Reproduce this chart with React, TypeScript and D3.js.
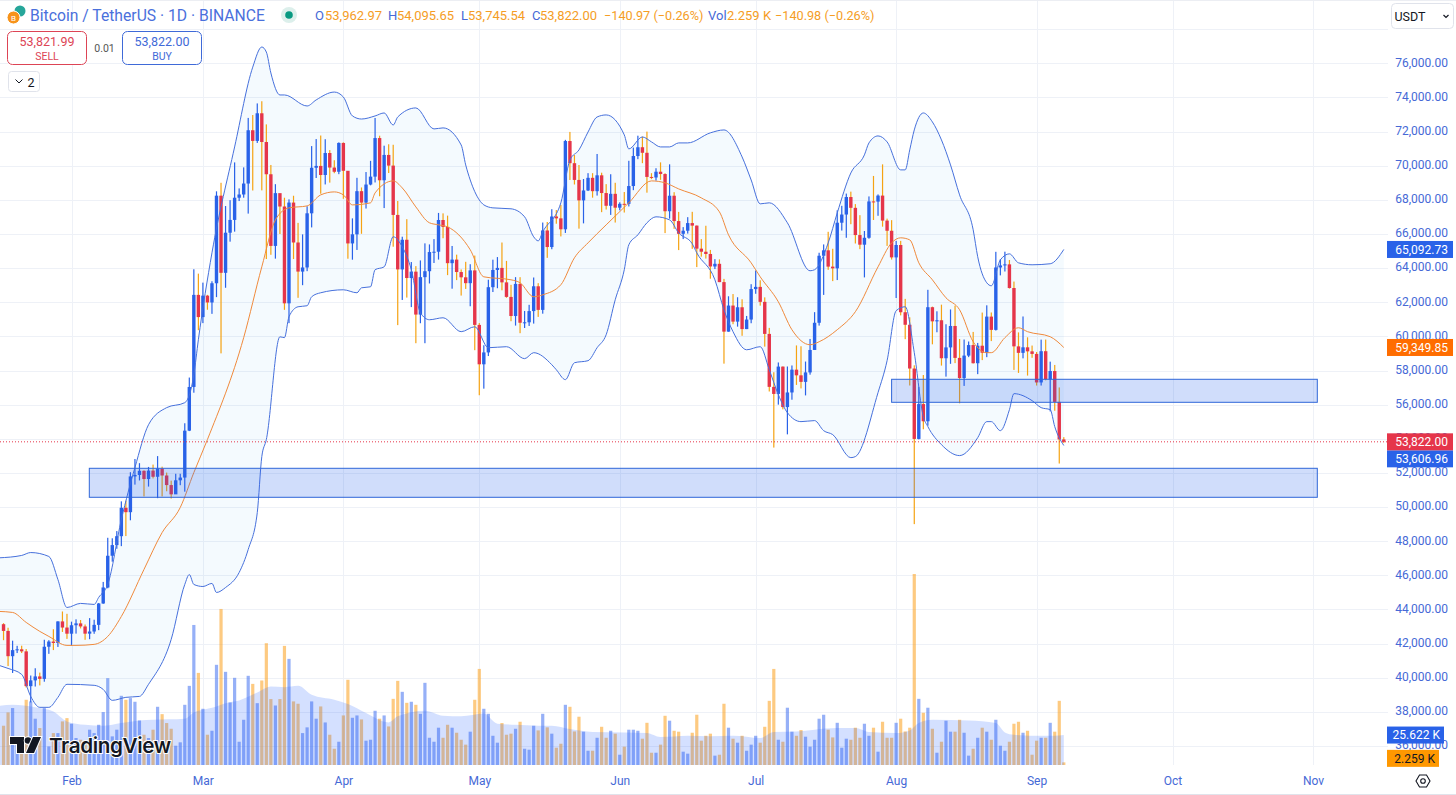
import React, { useEffect, useRef } from 'react';
import * as d3 from 'd3';

// Daily BTC/USDT candles, 17 Jan to 7 Sep
const opens = [
  43137,42742,41262,41618,41665,41545,39507,39845,40077,39933,41816,42120,42035,43300,42941,
  42580,43075,43185,43005,42582,42708,43098,44349,45288,47147,47771,48293,49958,49699,51795,51880,52124,51642,52137,51774,52258,51849,51288,50744,51568,51728,54476,57037,62432,
  61130,62387,61987,63113,68245,63724,66074,66823,68124,68313,68955,72078,71452,73072,71388,69499,65300,68393,67609,61937,67840,65501,63796,64037,67211,69880,69988,69455,70744,69892,69645,
  71333,69702,65446,65980,68508,67837,68896,69360,71620,69146,70631,70006,67116,63924,65661,63419,63793,61277,63470,63818,64941,64960,66819,66414,64289,64499,63770,63461,63118,63866,
  60672,58364,59060,62882,63892,64012,63165,62312,61193,63074,60799,60825,61483,62936,61552,66206,65235,67024,66915,66274,71446,70148,69166,67969,68549,69290,68507,69437,68398,67652,68352,
  67540,67766,67765,68809,70567,71082,70757,69342,69310,69648,69512,67332,68241,66756,66011,66191,66639,66490,65140,64960,64828,64096,64252,63180,60277,61806,60864,61706,60427,60986,
  62772,62900,62023,60145,57042,56628,58230,55857,56714,58050,57718,57334,57889,59204,60797,64724,65043,64087,63987,66660,67139,68165,67532,65936,65372,65777,67907,67896,68249,66784,66188,
  64628,65354,61415,60680,58116,53991,56034,55027,61710,60880,60945,58719,59354,60609,58739,57560,58874,59491,58427,59453,59042,61159,60381,64037,64157,64220,62834,59415,59034,59359,59123,
  58973,57301,59132,57487,57970,56160,53962.97,
];
const highs = [
  43198,42930,42171,41870,41877,41680,40129,40555,40300,42225,42200,42842,43305,43882,43745,
  43285,43422,43381,43119,43494,43399,44380,45614,48200,48170,48592,50334,50368,52043,52816,52572,52150,52350,52488,52985,52366,52020,51548,51950,51950,54910,57588,63933,63676,
  63150,62433,63230,68499,69000,67637,67980,70194,68670,69903,72800,72969,73650,73777,72422,70043,68918,68200,68124,68029,68240,66650,65976,67622,71150,71561,71769,71552,70916,70321,71366,
  71366,69674,66914,69291,68725,69629,70284,72797,71758,71172,71256,71227,67932,65840,66867,64355,64117,64450,65450,65389,65700,67233,67208,67075,65297,64789,63923,64370,64228,64734,
  60780,59480,63321,64494,64646,65500,64422,63020,63471,63469,61490,61849,63450,63118,66670,66703,67451,67400,67700,71515,71980,70625,70041,69220,69563,69562,70687,69590,68920,69500,69000,
  67857,68460,70288,71063,71758,71700,71997,69563,69852,70195,69558,70080,68449,67294,66402,66985,67298,66500,65700,66482,65066,64525,64512,63369,62350,62480,62293,62174,61197,63058,
  63861,63288,62285,60498,57900,58472,58238,58236,58296,59470,59421,58526,59850,61420,64900,65388,66128,65133,67386,67650,68366,68480,67750,67102,66175,68200,69400,68318,70079,66900,66810,
  65593,65596,62198,61117,58305,57040,57737,62729,61744,61470,61858,60711,61578,61800,59847,59817,59700,60262,59617,61396,61820,61400,64955,64521,64962,64476,63212,60234,61166,59945,59462,
  59086,59810,59815,58519,58327,57008,54095.65,
];
const lows = [
  42200,40683,40280,41446,41446,39431,38555,39484,39550,39767,41400,41620,41804,42683,42276,
  41884,42584,42889,42222,42258,42574,42788,44331,45242,46800,47557,47710,48300,49225,51315,51559,50625,51200,51677,50521,50625,50926,50500,50767,51280,50901,54450,56700,60364,
  60777,61561,61320,62300,59005,62848,65550,66136,67929,68126,67194,68548,71333,68555,64533,64780,64555,66000,61555,60775,64529,62260,63000,63821,66385,69280,68359,68903,69009,69560,69504,
  68062,64550,64493,65064,66011,67491,68851,69018,68210,67518,69571,65254,60660,62134,62274,61716,59600,60771,59600,63100,64300,64500,65750,63589,62794,63297,62391,62781,61765,59191,
  56552,56937,58848,62599,62822,62700,62261,60888,60632,60187,60492,60610,60749,61142,61330,64602,65106,66600,65857,66060,69162,68900,66312,66622,68515,68128,68250,67278,67431,67118,66670,
  67386,67257,67612,68567,70383,70148,68420,69210,69124,69172,66051,66900,66304,65056,65700,66023,65130,64060,64670,64559,63379,63943,63178,58402,60276,60712,60570,60035,60427,60770,
  62496,61800,59400,56771,53485,56000,55724,54260,56289,57157,56952,56542,57756,59784,60632,62430,63900,63238,63300,66200,65777,66573,65442,65111,63456,65722,66819,67066,66428,65302,64500,
  62248,61230,59836,57122,49000,53962,54558,54768,59535,60242,58288,57642,58392,58433,56078,57098,58785,58409,57787,58610,58783,59724,60342,63574,63801,62800,58034,57860,58713,57703,58745,
  57120,57120,57425,55606,55643,52550,53745.54,
];
const closes = [
  42742,41262,41618,41665,41545,39507,39845,40077,39933,41816,42120,42035,43300,42941,42580,
  43075,43185,43005,42582,42708,43098,44349,45288,47147,47771,48293,49958,49699,51795,51880,52124,51642,52137,51774,52258,51849,51288,50744,51568,51728,54476,57037,62432,61130,
  62387,61987,63113,68245,63724,66074,66823,68124,68313,68955,72078,71452,73072,71388,69499,65300,68393,67609,61937,67840,65501,63796,64037,67211,69880,69988,69455,70744,69892,69645,71333,
  69702,65446,65980,68508,67837,68896,69360,71620,69146,70631,70006,67116,63924,65661,63419,63793,61277,63470,63818,64941,64960,66819,66414,64289,64499,63770,63461,63118,63866,60672,
  58364,59060,62882,63892,64012,63165,62312,61193,63074,60799,60825,61483,62936,61552,66206,65235,67024,66915,66274,71446,70148,69166,67969,68549,69290,68507,69437,68398,67652,68352,67540,
  67766,67765,68809,70567,71082,70757,69342,69310,69648,69512,67332,68241,66756,66011,66191,66639,66490,65140,64960,64828,64096,64252,63180,60277,61806,60864,61706,60427,60986,62772,
  62900,62023,60145,57042,56628,58230,55857,56714,58050,57718,57334,57889,59204,60797,64724,65043,64087,63987,66660,67139,68165,67532,65936,65372,65777,67907,67896,68249,66784,66188,64628,
  65354,61415,60680,58116,53991,56034,55027,61710,60880,60945,58719,59354,60609,58739,57560,58874,59491,58427,59453,59042,61159,60381,64037,64157,64220,62834,59415,59034,59359,59123,58973,
  57301,59132,57487,57970,56160,53962.97,53822,
];

// Volume per day, in thousands of BTC
const volumes = [
  33.6,45.0,48.7,24.5,19.4,55.8,54.4,39.6,31.6,48.7,15.9,27.3,27.3,37.3,40.1,35.3,23.1,21.6,18.8,30.2,
  27.3,34.4,45.3,74.3,24.5,30.2,59.2,55.8,57.2,54.1,38.1,25.9,23.1,30.2,49.8,43.5,35.9,31.0,16.5,19.4,
  51.5,67.7,119.8,78.8,48.1,25.9,29.3,85.7,133.5,79.7,53.5,74.6,19.9,38.7,76.3,69.4,52.9,72.3,104.2,56.4,
  50.9,56.4,101.9,90.8,54.4,52.4,27.3,32.2,54.4,39.6,50.1,36.4,25.9,13.9,19.9,42.4,72.9,40.4,42.4,39.0,
  20.8,21.6,46.4,39.6,42.4,33.0,56.6,72.0,62.6,53.2,54.1,51.5,43.8,70.3,23.3,19.9,31.9,23.3,34.4,31.9,
  27.6,21.6,17.4,28.5,55.8,82.2,48.1,43.8,25.0,19.1,35.9,25.9,26.8,31.0,37.0,13.9,13.1,33.6,29.6,
  43.8,32.2,26.8,14.8,18.2,51.5,49.8,28.7,41.3,28.5,12.2,12.2,23.3,32.7,23.3,29.3,26.8,8.8,15.7,30.2,
  30.2,29.3,22.5,36.1,10.5,10.5,17.4,42.1,37.9,29.3,28.5,11.4,9.7,27.6,43.0,20.8,25.0,26.8,8.0,8.8,
  52.4,31.9,22.5,19.1,25.0,12.2,17.4,25.0,19.1,32.7,54.9,82.2,21.6,19.9,49.0,28.5,25.0,29.9,24.2,15.7,
  21.6,39.6,43.0,30.2,23.6,36.1,14.8,22.5,21.6,31.9,23.3,35.3,25.0,31.9,11.4,37.0,23.3,23.3,36.1,39.6,
  28.7,31.9,163.4,56.6,44.7,49.0,31.0,10.5,19.9,37.9,28.5,28.5,38.7,27.6,8.0,13.9,23.3,31.9,28.5,21.6,
  38.7,16.5,12.2,19.9,35.3,37.0,27.6,29.3,8.8,20.8,23.3,23.3,36.1,28.5,54.9,2.259,
];
const volumeMaBars = [-1,2,7,11,14,18,22,26,30,33,40,42,44,47,49,52,56,59,62,65,68,73,76,80,85,87,93,97,101,106,109,113,118,121,125,130,137,142,145,151,156,161,167,170,175,179,184,188,191,197,200,202,205,213,219,221,223,229,232,234];
const volumeMaValues = [50.7,51.5,49.5,45.8,37.3,34.4,33.6,35.9,38.1,38.7,39.6,45.0,47.2,50.1,52.9,55.2,62.0,67.2,66.6,67.7,60.1,55.8,52.1,44.4,36.4,41.6,46.4,42.1,41.6,44.0,35.3,34.4,33.6,33.6,30.7,28.2,27.9,27.3,23.9,25.0,24.5,25.0,23.1,28.2,28.7,30.2,31.6,31.6,28.2,27.3,29.6,35.9,38.7,38.1,35.9,27.9,25.9,25.0,25.0,25.622];

// Bollinger bands at the turning points
const upperBars = [-1,4,6,10,12,14,17,20,21,23,26,29,32,36,40,42,43,46,51,55,57,58,59,61,62,67,69,73,75,77,79,82,84,86,87,91,95,97,101,102,103,105,106,108,112,115,117,118,119,123,125,127,129,131,133,137,138,141,143,145,147,149,151,156,159,163,165,167,169,173,178,179,182,184,187,190,191,193,195,198,199,200,201,203,205,207,209,211,214,215,217,218,220,222,224,227,231,234];
const upperValues = [47025,47165,47335,47105,45755,44115,44355,44295,44705,45465,49265,52315,54825,55825,56115,57755,59805,64895,71100,75775,76955,76660,75435,74145,74145,73500,73855,74315,74025,72915,72735,72915,73090,72385,72855,73385,72155,72215,71215,70045,69165,67995,67705,67530,67475,67005,65835,65595,66125,67825,70335,70925,71975,72855,72975,71805,70985,71685,71395,71100,71100,71335,71335,71925,72095,70515,69165,67765,67825,66655,63845,63905,65475,67235,69575,70635,71335,71745,71395,69755,69755,70925,72095,73090,72565,71510,70045,68290,66245,64665,63140,62965,64485,64835,64310,64195,64255,65092.73];
const lowerBars = [-1,1,4,6,8,10,12,14,20,22,24,27,30,32,37,40,41,42,44,46,47,49,52,54,56,57,58,61,62,63,65,67,68,70,75,78,79,81,82,84,86,88,90,92,94,97,101,104,107,111,115,117,121,122,124,126,129,131,133,135,137,138,140,142,144,147,149,152,153,157,159,161,164,167,169,171,173,176,179,181,183,187,188,193,195,197,199,201,203,204,207,211,215,217,218,220,222,223,227,229,231,232,234];
const lowerValues = [40725,40545,40195,38905,38265,38265,38850,39615,39555,39315,38675,38850,38905,39615,42245,45465,46045,45465,45345,45525,44995,45285,46165,47515,49675,52955,53955,59975,59925,61150,61735,61795,62320,62555,62730,62555,62845,62905,63905,64075,65835,65245,63905,61385,60975,61090,60275,60565,59335,59395,58695,59045,58340,58045,57465,58455,58575,59335,60095,62145,63905,65365,65950,66655,67005,66825,66065,65425,64895,63315,61560,60275,59215,59395,58045,56585,55530,55005,55065,54475,54245,52895,52955,56705,58575,61505,61735,59045,55295,54715,53655,53015,54065,55005,55005,54475,55705,56645,56235,55825,55705,54715,53606.96];
const basisBars = [-1,2,5,8,10,14,16,20,23,26,31,35,39,42,45,53,57,60,63,67,70,73,75,77,81,82,86,88,91,94,96,98,103,106,112,114,117,119,123,126,129,133,138,143,146,149,154,158,160,165,167,171,174,178,180,184,188,193,196,198,200,202,205,208,211,214,217,218,221,224,226,231,234];
const basisValues = [43885,43825,43240,42715,42420,41895,41895,41955,42420,43590,46345,48505,49975,52020,53955,59925,64075,66825,67530,67645,68290,68465,68290,67705,67825,68405,69110,68700,67585,66655,66535,66415,65075,63490,63315,63140,62320,62435,63025,64605,65480,66535,67825,69110,68995,68640,68115,67295,65950,64310,63490,62025,60390,59510,59685,60390,61445,64075,65480,65775,65655,64310,63315,62260,61560,59685,59045,59045,59925,60505,60275,59980,59349.85];

// Drawn zones: price range and the bars they span
const zoneHighs = [52271, 57486];
const zoneLows = [50572, 56138];
const zoneFromBars = [18.93, 196];
const zoneToBars = [289.95, 289.95];

const priceTicks = d3.range(36000, 76001, 2000);
const gridPrices = d3.range(36000, 78001, 2000);
const monthBars = [15, 44, 75, 105, 136, 166, 197, 228, 258, 289];
const monthLabels = ['Feb', 'Mar', 'Apr', 'May', 'Jun', 'Jul', 'Aug', 'Sep', 'Oct', 'Nov'];

const lastPrice = 53822;
const lastVolume = 2.259;

const BLUE = '#2962e8';
const RED = '#e5354a';
const WICK_DOWN = '#f5a313';
const VOL_UP = '#3f6ff0';
const VOL_DOWN = '#fb9f1a';
const LINE_BLUE = '#4670dc';
const LINE_ORANGE = '#f08a3c';
const LABEL = '#4669d6';
const GRID = '#eef1f7';
const FONT = 'Roboto, sans-serif';

const App = () => {
  const svgRef = useRef<SVGSVGElement>(null);

  useEffect(() => {
    document.body.style.margin = '0';
    const svg = d3.select(svgRef.current);
    svg.selectAll('*').remove();

    const axisX = 1388;
    const x = d3.scaleLinear().domain([15, 289]).range([71.5, 1313]);
    const y = d3.scaleLinear().domain([36000, 76000]).range([746, 63.3]);
    const yVol = d3.scaleLinear().domain([0, 163.4]).range([765, 574]);

    // Grid
    const grid = svg.append('g').attr('shape-rendering', 'crispEdges').attr('stroke', GRID);
    grid.selectAll('line.h').data(gridPrices).enter().append('line')
      .attr('x1', 0).attr('x2', axisX)
      .attr('y1', d => Math.round(y(d))).attr('y2', d => Math.round(y(d)));
    grid.selectAll('line.v').data(monthBars).enter().append('line')
      .attr('x1', d => Math.round(x(d))).attr('x2', d => Math.round(x(d)))
      .attr('y1', 0).attr('y2', 765);
    svg.append('line').attr('x1', 0).attr('x2', 1456).attr('y1', 0.5).attr('y2', 0.5).attr('stroke', '#eceef3');
    svg.append('line').attr('x1', 0).attr('x2', 1456).attr('y1', 794.5).attr('y2', 794.5).attr('stroke', '#e0e3eb');

    // Volume bars
    const bars = d3.range(opens.length);
    const isUp = (i: number) => closes[i] >= opens[i];
    svg.append('g').selectAll('rect').data(bars).enter().append('rect')
      .attr('x', i => x(i) - 1.6)
      .attr('y', i => yVol(volumes[i]))
      .attr('width', 3.2)
      .attr('height', i => yVol(0) - yVol(volumes[i]))
      .attr('fill', i => (isUp(i) ? VOL_UP : VOL_DOWN))
      .attr('opacity', 0.55);

    // Volume moving average
    const volMaPts = volumeMaBars.map((b, i) => [b, volumeMaValues[i]]);
    const volArea = d3.area<number[]>()
      .x(d => x(d[0])).y0(yVol(0)).y1(d => yVol(d[1])).curve(d3.curveMonotoneX);
    svg.append('path').attr('d', volArea(volMaPts)).attr('fill', '#2962ff').attr('opacity', 0.2);

    // Bollinger fill
    const line = d3.line<number[]>().x(d => x(d[0])).y(d => y(d[1])).curve(d3.curveMonotoneX);
    const upperPts = upperBars.map((b, i) => [b, upperValues[i]]);
    const lowerPts = lowerBars.map((b, i) => [b, lowerValues[i]]);
    const basisPts = basisBars.map((b, i) => [b, basisValues[i]]);
    const bandPath = line(upperPts) + line([...lowerPts].reverse()).replace('M', 'L') + 'Z';
    svg.append('path').attr('d', bandPath).attr('fill', '#2196f3').attr('opacity', 0.05);

    // Candles
    const candles = svg.append('g');
    candles.selectAll('rect.wick').data(bars).enter().append('rect')
      .attr('x', i => x(i) - 0.6)
      .attr('y', i => y(highs[i]))
      .attr('width', 1.2)
      .attr('height', i => y(lows[i]) - y(highs[i]))
      .attr('fill', i => (isUp(i) ? BLUE : WICK_DOWN));
    candles.selectAll('rect.body').data(bars).enter().append('rect')
      .attr('x', i => x(i) - 1.7)
      .attr('y', i => y(Math.max(opens[i], closes[i])))
      .attr('width', 3.4)
      .attr('height', i => Math.max(1, Math.abs(y(opens[i]) - y(closes[i]))))
      .attr('fill', i => (isUp(i) ? BLUE : RED));

    // Band lines
    svg.append('path').attr('d', line(upperPts)).attr('fill', 'none').attr('stroke', LINE_BLUE).attr('stroke-width', 1);
    svg.append('path').attr('d', line(lowerPts)).attr('fill', 'none').attr('stroke', LINE_BLUE).attr('stroke-width', 1);
    svg.append('path').attr('d', line(basisPts)).attr('fill', 'none').attr('stroke', LINE_ORANGE).attr('stroke-width', 1);

    // Zones
    svg.append('g').selectAll('rect').data(zoneHighs).enter().append('rect')
      .attr('x', (_, i) => x(zoneFromBars[i]))
      .attr('y', d => y(d))
      .attr('width', (_, i) => x(zoneToBars[i]) - x(zoneFromBars[i]))
      .attr('height', (d, i) => y(zoneLows[i]) - y(d))
      .attr('fill', 'rgba(41,98,235,0.22)')
      .attr('stroke', '#2f66d8')
      .attr('stroke-width', 1);

    // Last price line
    svg.append('line')
      .attr('x1', 0).attr('x2', axisX)
      .attr('y1', y(lastPrice)).attr('y2', y(lastPrice))
      .attr('stroke', RED).attr('stroke-dasharray', '1 2');

    // Axes
    const priceAxis = svg.append('g')
      .attr('transform', 'translate(1448,-1)')
      .call(d3.axisLeft(y).tickValues(priceTicks).tickSize(0).tickPadding(0).tickFormat(d3.format(',.2f')));
    priceAxis.select('.domain').remove();
    priceAxis.selectAll('text').attr('fill', LABEL).attr('font-size', 12).attr('font-family', FONT);

    const monthAxis = svg.append('g')
      .attr('transform', 'translate(0,773)')
      .call(d3.axisBottom(x).tickValues(monthBars).tickSize(0).tickPadding(3).tickFormat((_, i) => monthLabels[i]));
    monthAxis.select('.domain').remove();
    monthAxis.selectAll('text').attr('fill', LABEL).attr('font-size', 12).attr('font-family', FONT);

    // Axis tags
    const tag = (label: string, cy: number, w: number, fill: string, color = '#fff') => {
      svg.append('rect').attr('x', 1387).attr('y', cy - 8.5).attr('width', w).attr('height', 17).attr('fill', fill);
      svg.append('text').attr('x', 1448).attr('y', cy + 4.2).attr('text-anchor', 'end')
        .attr('font-size', 12).attr('font-family', FONT).attr('fill', color).text(label);
    };
    const volTag = (label: string, cy: number, w: number, fill: string, color = '#fff') => {
      svg.append('rect').attr('x', 1387).attr('y', cy - 8.5).attr('width', w).attr('height', 17).attr('fill', fill);
      svg.append('text').attr('x', 1387 + w - 4).attr('y', cy + 4.2).attr('text-anchor', 'end')
        .attr('font-size', 12).attr('font-family', FONT).attr('fill', color).text(label);
    };
    tag('65,092.73', y(65092.73), 66, BLUE);
    tag('59,349.85', y(59349.85), 66, '#ff6d00');
    tag('53,606.96', y(lastPrice) + 17, 66, BLUE);
    tag('53,822.00', y(lastPrice), 66, RED);
    volTag('25.622 K', yVol(volumeMaValues[volumeMaValues.length - 1]), 57, BLUE);
    volTag('2.259 K', yVol(lastVolume) - 4, 52, '#ff9800', '#131722');

    // Header
    const text = (s: string, tx: number, ty: number, size: number, fill: string, anchor = 'start') =>
      svg.append('text').attr('x', tx).attr('y', ty).attr('font-size', size).attr('font-family', FONT)
        .attr('fill', fill).attr('text-anchor', anchor).text(s);

    svg.append('circle').attr('cx', 20).attr('cy', 11).attr('r', 5.5).attr('fill', '#26a69a');
    svg.append('circle').attr('cx', 13.5).attr('cy', 17.5).attr('r', 6.5).attr('fill', '#f7931a').attr('stroke', '#fff');
    text('B', 13.5, 20.5, 8, '#fff', 'middle');
    text('Bitcoin / TetherUS · 1D · BINANCE', 30, 20.5, 15.7, '#4a70dc');
    svg.append('circle').attr('cx', 289).attr('cy', 15).attr('r', 8).attr('fill', '#dcefeb');
    svg.append('circle').attr('cx', 289).attr('cy', 15).attr('r', 3.8).attr('fill', '#089981');

    const VALUE = '#f59d25';
    text('O', 315, 20, 13, LABEL);
    text('53,962.97', 325, 20, 13, VALUE);
    text('H', 388, 20, 13, LABEL);
    text('54,095.65', 397, 20, 13, VALUE);
    text('L', 461, 20, 13, LABEL);
    text('53,745.54', 468, 20, 13, VALUE);
    text('C', 532, 20, 13, LABEL);
    text('53,822.00', 540, 20, 13, VALUE);
    text('−140.97 (−0.26%)', 604, 20, 12.7, VALUE);
    text('Vol', 708, 20, 13, LABEL);
    text('2.259 K', 727, 20, 13, VALUE);
    text('−140.98 (−0.26%)', 775, 20, 12.7, VALUE);

    // Order buttons
    svg.append('rect').attr('x', 7.5).attr('y', 31.5).attr('width', 79).attr('height', 33).attr('rx', 5)
      .attr('fill', '#fff').attr('stroke', '#dd4455');
    text('53,821.99', 47, 46, 12.5, '#dd4455', 'middle');
    text('SELL', 47, 60, 10.5, '#dd4455', 'middle');
    text('0.01', 104.5, 52, 10.5, '#555', 'middle');
    svg.append('rect').attr('x', 122.5).attr('y', 31.5).attr('width', 79).attr('height', 33).attr('rx', 5)
      .attr('fill', '#fff').attr('stroke', '#3f6ad8');
    text('53,822.00', 162, 46, 12.5, '#3f6ad8', 'middle');
    text('BUY', 162, 60, 10.5, '#3f6ad8', 'middle');

    svg.append('rect').attr('x', 8.5).attr('y', 71.5).attr('width', 31).attr('height', 20).attr('rx', 3)
      .attr('fill', '#fff').attr('stroke', '#e0e3eb');
    svg.append('path').attr('d', 'M15.5 79.5l3.5 3.5 3.5-3.5').attr('fill', 'none').attr('stroke', '#131722');
    text('2', 31, 86.5, 12.5, '#131722', 'middle');

    svg.append('rect').attr('x', 1391.5).attr('y', 3.5).attr('width', 62).attr('height', 25).attr('rx', 4)
      .attr('fill', '#fff').attr('stroke', '#e0e3eb');
    text('USDT', 1394.5, 20.5, 12.5, '#131722');
    svg.append('path').attr('d', 'M1443.5 15l2.5 2.5 2.5-2.5').attr('fill', 'none').attr('stroke', '#131722').attr('stroke-width', 1.2);

    // Settings icon
    svg.append('path').attr('d', 'M1416 781l3.5-6h7l3.5 6-3.5 6h-7z').attr('fill', 'none').attr('stroke', '#131722').attr('stroke-width', 1.1);
    svg.append('circle').attr('cx', 1423).attr('cy', 781).attr('r', 2.3).attr('fill', 'none').attr('stroke', '#131722').attr('stroke-width', 1.1);

    // Watermark
    const logo = svg.append('g').attr('fill', '#131722').attr('stroke', '#fff').attr('stroke-width', 2).attr('paint-order', 'stroke');
    logo.append('path').attr('d', 'M10 737h14v16h-7v-9h-7z');
    logo.append('circle').attr('cx', 28).attr('cy', 740.5).attr('r', 3.3);
    logo.append('path').attr('d', 'M33 737h8l-7 16h-8z');
    logo.append('text').attr('x', 49).attr('y', 753).attr('font-size', 20.7).attr('font-weight', 600)
      .attr('font-family', 'Inter, sans-serif').attr('letter-spacing', -0.4).text('TradingView');
  }, []);

  return <svg ref={svgRef} width={1456} height={795} style={{ display: 'block', background: '#fff' }} />;
};

export default App;
